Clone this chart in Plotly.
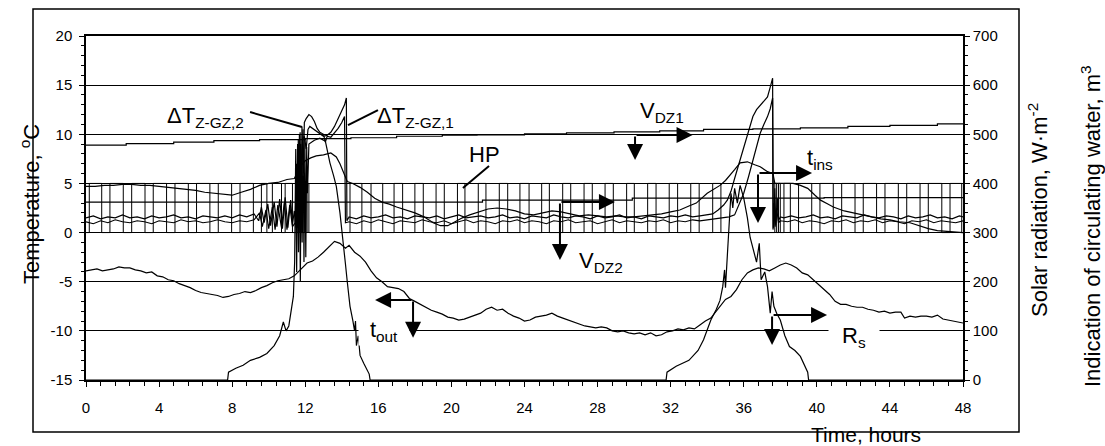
import plotly.graph_objects as go

FONT = "Arial, 'Liberation Sans', sans-serif"

# ---------------- data (time in hours) ----------------
# outdoor temperature t_out, degC
T_OUT = [(0.0,-3.9),(0.3,-3.8),(0.6,-3.7),(0.9,-3.9),(1.2,-3.8),(1.5,-3.7),(1.8,-3.5),(2.1,-3.6),(2.4,-3.6),
         (2.7,-3.8),(3.0,-3.9),(3.3,-4.1),(3.6,-4.0),(3.9,-4.4),(4.2,-4.5),(4.5,-4.8),(4.8,-4.9),(5.1,-5.2),
         (5.4,-5.4),(5.7,-5.6),(6.0,-5.9),(6.3,-6.1),(6.6,-6.2),(6.9,-6.3),(7.2,-6.4),(7.5,-6.6),(7.8,-6.5),
         (8.1,-6.3),(8.4,-6.2),(8.7,-6.0),(9.0,-6.1),(9.3,-5.9),(9.6,-5.6),(9.9,-5.4),(10.2,-5.1),(10.5,-4.9),
         (10.8,-4.8),(11.1,-4.7),(11.4,-4.4),(11.6,-4.0),(11.8,-3.6),(12.1,-3.1),(12.4,-2.9),(12.7,-2.5),
         (13.0,-2.0),(13.3,-1.4),(13.6,-0.9),(13.9,-1.1),(14.2,-1.6),(14.4,-1.3),(14.7,-2.0),(15.0,-2.4),
         (15.3,-3.0),(15.6,-3.9),(15.9,-4.6),(16.2,-5.0),(16.5,-5.5),(16.8,-5.6),(17.1,-5.7),(17.4,-6.0),
         (17.7,-6.7),(18.0,-7.0),(18.3,-7.3),(18.6,-7.6),(18.9,-7.9),(19.2,-8.1),(19.5,-8.3),(19.8,-8.6),
         (20.1,-8.7),(20.4,-8.9),(20.7,-8.8),(21.0,-8.6),(21.3,-8.4),(21.6,-8.2),(21.9,-7.8),(22.2,-7.6),
         (22.5,-7.9),(22.8,-7.8),(23.1,-8.2),(23.4,-8.5),(23.7,-8.7),(24.0,-9.0),(24.3,-8.9),(24.6,-8.6),
         (24.9,-8.5),(25.2,-8.4),(25.5,-8.2),(25.8,-8.5),(26.1,-8.7),(26.4,-8.9),(26.7,-9.1),(27.0,-9.3),
         (27.3,-9.5),(27.6,-9.6),(27.9,-9.7),(28.2,-9.6),(28.5,-9.7),(28.8,-10.0),(29.1,-10.1),(29.4,-10.0),
         (29.7,-10.2),(30.0,-10.3),(30.3,-10.2),(30.6,-10.4),(30.9,-10.2),(31.2,-10.5),(31.5,-10.4),
         (31.8,-10.1),(32.1,-10.0),(32.4,-9.8),(32.7,-9.9),(33.0,-9.7),(33.3,-9.8),(33.6,-9.4),(33.9,-9.0),
         (34.2,-8.7),(34.5,-8.0),(34.8,-7.3),(35.0,-6.8),(35.3,-6.5),(35.6,-5.8),(35.9,-4.8),(36.2,-4.1),
         (36.5,-3.8),(36.8,-3.6),(37.1,-3.7),(37.4,-3.9),(37.7,-3.6),(38.0,-3.3),(38.3,-3.1),(38.6,-3.3),
         (38.9,-3.6),(39.2,-4.1),(39.5,-4.3),(39.8,-4.8),(40.1,-5.4),(40.4,-5.8),(40.7,-6.3),(41.0,-7.0),
         (41.3,-7.3),(41.6,-7.3),(41.9,-7.5),(42.2,-7.6),(42.5,-7.6),(42.8,-7.8),(43.1,-7.9),(43.4,-8.1),
         (43.7,-8.0),(44.0,-8.2),(44.3,-8.1),(44.6,-8.1),(44.8,-8.7),(45.1,-8.5),(45.4,-8.6),(45.7,-8.5),
         (46.0,-8.5),(46.3,-8.6),(46.6,-8.4),(46.9,-8.8),(47.2,-8.9),(47.5,-9.0),(47.8,-9.1),(48.0,-9.2)]

# inside temperature t_ins, degC
T_INS = [(0.0,4.7),(0.5,4.7),(1.0,4.8),(1.5,4.8),(2.0,4.9),(2.5,4.9),(3.0,4.8),(3.5,4.8),(4.0,4.7),(4.5,4.6),
         (5.0,4.5),(5.5,4.4),(6.0,4.3),(6.5,4.1),(7.0,4.0),(7.5,3.9),(8.0,3.8),(8.5,4.1),(9.0,4.4),(9.5,4.8),
         (10.0,5.0),(10.5,5.1),(11.0,5.4),(11.4,5.5),(11.6,6.2),(11.8,6.9),(12.0,7.3),(12.3,7.6),(12.6,7.8),
         (13.0,7.9),(13.4,8.1),(13.7,7.7),(13.9,7.0),(14.1,6.0),(14.3,5.2),(14.6,5.0),(15.0,4.6),(15.4,4.1),
         (15.8,3.5),(16.2,3.1),(16.6,2.9),(17.0,2.6),(17.5,2.3),(18.0,2.0),(18.5,1.6),(19.0,1.0),(19.4,0.7),
         (19.8,0.7),(20.2,1.1),(20.6,1.5),(21.0,1.8),(21.5,2.1),(22.0,2.4),(22.5,2.5),(23.0,2.4),(23.5,2.2),
         (24.0,1.9),(24.5,1.8),(25.0,2.0),(25.5,2.2),(26.0,2.1),(26.5,1.9),(27.0,1.7),(27.5,1.8),(28.0,1.7),
         (28.5,1.6),(29.0,1.7),(29.5,1.6),(30.0,1.6),(30.5,1.7),(31.0,1.8),(31.5,1.9),(32.0,2.1),(32.5,2.3),
         (33.0,2.7),(33.4,3.0),(34.0,4.0),(34.4,4.5),(34.7,4.8),(35.0,5.3),(35.2,5.7),(35.5,6.4),(35.8,7.1),
         (36.2,7.2),(36.6,6.9),(36.9,6.7),(37.3,6.2),(37.6,6.0),(37.7,5.0),(38.2,5.0),(38.7,5.0),(39.1,4.8),
         (39.5,4.5),(39.9,3.8),(40.2,3.3),(40.6,2.9),(40.9,2.6),(41.5,2.2),(42.0,2.0),(42.5,1.8),(43.0,1.6),
         (43.5,1.4),(44.0,1.3),(44.5,1.1),(45.1,1.0),(45.6,0.7),(46.1,0.4),(46.6,0.2),(47.2,0.1),(48.0,0.0)]

# temperature difference dT_Z-GZ,1, degC
DT_1 = [(0.0,1.5),(0.4,1.7),(0.8,1.4),(1.2,1.6),(1.6,1.5),(2.0,1.8),(2.4,1.5),(2.8,1.6),(3.2,1.4),(3.6,1.7),
        (4.0,1.5),(4.4,1.6),(4.8,1.8),(5.2,1.5),(5.6,1.6),(6.0,1.4),(6.4,1.7),(6.8,1.6),(7.2,1.5),(7.6,1.7),
        (8.0,1.5),(8.4,1.8),(8.8,1.6),(9.2,1.9),(9.45,1.2),(9.6,2.6),(9.75,1.0),(9.95,2.9),(10.1,0.7),
        (10.3,3.1),(10.45,0.6),(10.6,3.4),(10.75,0.4),(10.9,3.6),(11.05,0.5),(11.2,3.3),(11.3,0.8),(11.4,2.2),
        (11.5,0.5),(11.55,6.0),(11.6,1.0),(11.65,8.0),(11.7,2.0),(11.75,9.0),(11.8,4.0),(11.85,9.5),
        (11.95,9.8),(12.05,8.5),(12.15,10.5),(12.25,10.8),(12.4,10.6),(12.6,10.3),(12.8,10.0),(13.0,9.8),
        (13.2,9.9),(13.4,10.2),(13.6,10.8),(13.8,11.6),(14.0,12.4),(14.15,13.0),(14.25,13.7),(14.28,1.2),
        (14.4,1.6),(14.8,1.4),(15.2,1.7),(15.6,1.5),(16.0,1.6),(16.4,1.8),(16.8,1.5),(17.2,1.6),(17.6,1.4),
        (18.0,1.7),(18.4,1.6),(18.8,1.5),(19.2,1.7),(19.6,1.4),(20.0,1.6),(20.4,1.8),(20.8,1.5),(21.2,1.6),
        (21.6,1.7),(22.0,1.5),(22.4,1.6),(22.8,1.8),(23.2,1.5),(23.6,1.6),(24.0,1.4),(24.4,1.7),(24.8,1.6),
        (25.2,1.5),(25.6,1.8),(26.0,1.6),(26.4,1.5),(26.8,1.7),(27.2,1.6),(27.6,1.4),(28.0,1.7),(28.4,1.5),
        (28.8,1.6),(29.2,1.8),(29.6,1.5),(30.0,1.6),(30.4,1.4),(30.8,1.7),(31.2,1.6),(31.6,1.5),(32.0,1.7),
        (32.4,1.6),(32.8,1.8),(33.2,1.6),(33.6,1.7),(34.0,1.8),(34.3,1.9),(34.6,2.3),(34.9,2.8),(35.1,3.3),
        (35.3,4.2),(35.5,5.5),(35.8,7.4),(36.05,9.2),(36.3,10.8),(36.5,11.8),(36.7,12.5),(36.9,12.9),
        (37.1,13.3),(37.3,13.8),(37.45,14.8),(37.58,15.7),(37.6,0.3),(37.65,1.0),(37.7,4.5),(37.75,0.8),
        (37.85,3.5),(37.9,1.2),(38.0,1.6),(38.2,1.5),(38.6,1.7),(39.0,1.5),(39.4,1.6),(39.8,1.8),(40.2,1.5),
        (40.6,1.6),(41.0,1.4),(41.4,1.7),(41.8,1.6),(42.2,1.5),(42.6,1.8),(43.0,1.6),(43.4,1.5),(43.8,1.7),
        (44.2,1.6),(44.6,1.4),(45.0,1.7),(45.4,1.5),(45.8,1.6),(46.2,1.8),(46.6,1.5),(47.0,1.6),(47.4,1.4),
        (47.8,1.7),(48.0,1.6)]

# temperature difference dT_Z-GZ,2, degC
DT_2 = [(0.0,1.1),(0.4,0.9),(0.8,1.2),(1.2,1.0),(1.6,1.3),(2.0,1.1),(2.4,1.0),(2.8,1.2),(3.2,1.1),(3.6,0.9),
        (4.0,1.2),(4.4,1.1),(4.8,1.0),(5.2,1.3),(5.6,1.1),(6.0,1.2),(6.4,1.0),(6.8,1.1),(7.2,1.3),(7.6,1.1),
        (8.0,1.0),(8.4,1.2),(8.8,1.1),(9.2,1.3),(9.5,2.0),(9.65,0.6),(9.85,2.3),(10.0,0.4),(10.2,2.6),
        (10.35,0.3),(10.5,2.8),(10.7,0.5),(10.85,3.0),(11.0,0.3),(11.15,2.8),(11.3,0.6),(11.45,1.0),
        (11.52,7.0),(11.57,0.5),(11.62,9.5),(11.67,1.0),(11.72,10.2),(11.77,3.0),(11.82,10.8),(11.9,6.0),
        (11.95,11.2),(12.05,11.6),(12.2,12.0),(12.35,11.8),(12.5,11.3),(12.65,10.6),(12.8,10.2),(13.0,10.0),
        (13.1,9.2),(13.2,9.8),(13.4,9.7),(13.6,10.1),(13.8,10.6),(14.0,11.2),(14.15,11.8),(14.2,1.0),
        (14.4,1.1),(14.8,0.9),(15.2,1.2),(15.6,1.0),(16.0,1.3),(16.4,1.1),(16.8,0.9),(17.2,1.2),(17.6,1.1),
        (18.0,1.0),(18.4,1.3),(18.8,1.1),(19.2,1.0),(19.6,1.2),(20.0,0.9),(20.4,1.1),(20.8,1.3),(21.2,1.0),
        (21.6,1.2),(22.0,1.1),(22.4,0.9),(22.8,1.2),(23.2,1.1),(23.6,1.3),(24.0,1.0),(24.4,1.2),(24.8,1.1),
        (25.2,0.9),(25.6,1.2),(26.0,1.1),(26.4,1.3),(26.8,1.0),(27.2,1.1),(27.6,1.2),(28.0,0.9),(28.4,1.1),
        (28.8,1.3),(29.2,1.0),(29.6,1.2),(30.0,1.1),(30.4,1.0),(30.8,1.2),(31.2,1.1),(31.6,1.3),(32.0,1.0),
        (32.4,1.2),(32.8,1.1),(33.2,1.3),(33.6,1.2),(34.0,1.3),(34.4,1.4),(34.8,1.5),(35.2,1.6),(35.5,1.8),
        (35.75,3.0),(36.0,4.0),(36.25,5.6),(36.5,7.4),(36.7,8.8),(36.9,10.1),(37.1,11.0),(37.3,11.8),
        (37.45,12.6),(37.58,13.7),(37.62,0.5),(37.68,3.0),(37.72,0.6),(37.8,2.5),(37.9,1.0),(38.0,1.2),
        (38.4,1.1),(38.8,1.3),(39.2,1.0),(39.6,1.2),(40.0,1.1),(40.4,0.9),(40.8,1.2),(41.2,1.1),(41.6,1.3),
        (42.0,1.0),(42.4,1.2),(42.8,1.1),(43.2,1.3),(43.6,1.0),(44.0,1.2),(44.4,1.1),(44.8,0.9),(45.2,1.2),
        (45.6,1.1),(46.0,1.3),(46.4,1.0),(46.8,1.2),(47.2,1.1),(47.6,1.0),(48.0,1.2)]

# solar radiation R_s, W/m2 (right axis)
R_S = [(0.0,0),(7.75,0),(7.8,16),(8.2,24),(8.6,30),(9.0,40),(9.5,46),(9.9,54),(10.3,70),(10.6,90),(10.8,118),
       (10.95,100),(11.1,110),(11.25,148),(11.35,170),(11.42,240),(11.48,470),(11.53,220),(11.58,480),
       (11.63,260),(11.68,500),(11.73,200),(11.78,460),(11.83,280),(11.88,510),(11.93,240),(11.98,490),
       (12.03,250),(12.08,474),(12.12,380),(12.2,480),(12.5,488),(12.8,492),(13.1,486),(13.35,442),
       (13.55,416),(13.7,394),(13.9,340),(14.05,280),(14.2,236),(14.3,200),(14.45,150),(14.6,122),
       (14.7,100),(14.75,120),(14.8,70),(14.9,90),(15.0,50),(15.2,34),(15.4,20),(15.5,12),(15.55,0),
       (31.75,0),(31.8,16),(32.3,28),(33.0,40),(33.5,60),(33.8,82),(34.2,122),(34.5,144),(34.7,162),
       (34.85,190),(34.95,224),(35.0,188),(35.1,260),(35.2,330),(35.3,380),(35.4,350),(35.5,390),
       (35.65,360),(35.8,396),(36.0,370),(36.2,330),(36.35,290),(36.55,260),(36.7,240),(36.85,278),
       (36.95,204),(37.15,220),(37.3,190),(37.45,136),(37.55,180),(37.65,150),(37.8,136),(38.0,122),
       (38.25,90),(38.5,68),(38.8,60),(39.1,48),(39.35,30),(39.5,16),(39.55,0),(48.0,0)]

# circulating-water meter indications (right axis units)
V_DZ1 = [(0.0,478),(2.2,481),(4.8,484),(7.0,487),(9.5,489),(12.0,491),(14.5,493),(17.0,496),(19.5,498),
         (21.4,499),(24.0,501),(26.3,503),(28.9,505),(31.4,507),(33.8,510),(36.5,511),(39.1,513),
         (41.7,516),(44.0,518),(46.6,521),(48.0,521)]
V_DZ2 = [(0.0,362),(21.7,366),(29.9,370),(40.4,371),(48.0,371)]

# heat pump on/off switching times (h); levels on the right axis
HP_EDGES = [0.18,0.86,1.31,2.04,2.5,3.23,3.68,4.41,4.87,5.6,6.05,6.78,7.24,7.97,8.43,9.16,9.6,9.9,10.2,
            10.7,10.9,11.3,11.5,11.55,11.65,11.7,11.8,11.85,11.95,12.0,12.1,12.2,14.45,15.1,15.6,16.24,
            16.86,17.33,18.0,18.46,19.16,19.61,20.33,20.74,21.47,21.89,22.62,23.08,23.75,24.25,24.94,25.36,
            26.09,26.53,27.26,27.71,28.41,28.86,29.59,30.01,30.74,31.2,31.92,32.38,33.1,33.56,34.3,34.75,
            37.7,37.8,37.9,38.0,38.2,38.55,39.0,39.72,40.17,40.9,41.36,42.09,42.54,43.27,43.73,44.46,
            44.92,45.65,46.1,46.84,47.29,47.93]
HP_LEVELS = [300, 400]

X_TICKS = list(range(0, 49, 4))
Y_TICKS = [-15, -10, -5, 0, 5, 10, 15, 20]
Y2_TICKS = [0, 100, 200, 300, 400, 500, 600, 700]


def split(points):
    return [p[0] for p in points], [p[1] for p in points]


fig = go.Figure()
LINE = dict(color="black", width=1.2)

for pts in [T_OUT, T_INS, DT_1, DT_2]:
    x, y = split(pts)
    fig.add_trace(go.Scatter(x=x, y=y, mode="lines", line=LINE, yaxis="y", showlegend=False))

x, y = split(R_S)
fig.add_trace(go.Scatter(x=x, y=y, mode="lines", line=LINE, yaxis="y2", showlegend=False))

for pts in [V_DZ1, V_DZ2]:
    x, y = split(pts)
    fig.add_trace(go.Scatter(x=x, y=y, mode="lines", line=dict(color="black", width=1.2, shape="hv"),
                             yaxis="y2", showlegend=False))

hp_x, hp_y = [0.0], [HP_LEVELS[0]]
state = 0
for t in HP_EDGES:
    state = 1 - state
    hp_x.append(t)
    hp_y.append(HP_LEVELS[state])
hp_x.append(48.0)
hp_y.append(hp_y[-1])
fig.add_trace(go.Scatter(x=hp_x, y=hp_y, mode="lines", line=dict(color="black", width=1.0, shape="hv"),
                         yaxis="y2", showlegend=False))

# ---------------- annotations ----------------
annotations = []

LBL = dict(family=FONT, size=22, color="black")
labels = [
    ("ΔT<sub>Z-GZ,2</sub>", 4.3, 11.8, None),
    ("ΔT<sub>Z-GZ,1</sub>", 15.8, 11.8, None),
    ("HP", 20.85, 7.9, None),
    ("V<sub>DZ1</sub>", 30.2, 12.3, None),
    ("V<sub>DZ2</sub>", 26.9, -3.0, None),
    ("t<sub>out</sub>", 14.89, -10.0, 50),
    ("t<sub>ins</sub>", 39.35, 7.5, None),
    ("R<sub>s</sub>", 40.61, -10.6, 50),
]
for text, x, y, w in labels:
    a = dict(x=x, y=y, xref="x", yref="y", text=text, showarrow=False, xanchor="left", yanchor="middle",
             font=LBL)
    if w:
        a.update(bgcolor="white", width=w, align="center", borderpad=0)
    annotations.append(a)

# L-shaped arrows: (corner_t, corner_v, head_t, head_v)
ARROWS = [(30.05, 9.93, 33.2, 9.93), (30.05, 9.93, 30.05, 7.39),
          (25.94, 3.11, 28.95, 3.11), (25.94, 3.11, 25.94, -2.8),
          (17.9, -6.86, 15.82, -6.86), (17.9, -6.86, 17.9, -10.7),
          (36.78, 6.06, 39.74, 6.06), (36.78, 6.06, 36.78, 0.98),
          (37.55, -8.38, 40.56, -8.38), (37.55, -8.38, 37.55, -11.43)]
for ct, cv, ht, hv in ARROWS:
    annotations.append(dict(x=ht, y=hv, ax=ct, ay=cv, xref="x", yref="y", axref="x", ayref="y",
                            text="", showarrow=True, arrowhead=2, arrowsize=1.6, arrowwidth=2,
                            arrowcolor="black", standoff=0, startstandoff=0))

TITLE = dict(family=FONT, size=22, color="black")
annotations += [
    dict(x=(30 - 86) / 877, y=(380 - 204) / 344, xref="paper", yref="paper", text="Temperature, <sup>o</sup>C",
         textangle=-90, showarrow=False, xanchor="center", yanchor="middle", font=TITLE),
    dict(x=(1038 - 86) / 877, y=(380 - 210) / 344, xref="paper", yref="paper",
         text="Solar radiation, W·m<sup>-2</sup>", textangle=-90, showarrow=False,
         xanchor="center", yanchor="middle", font=TITLE),
    dict(x=(1091 - 86) / 877, y=(380 - 226) / 344, xref="paper", yref="paper",
         text="Indication of circulating water, m<sup>3</sup>", textangle=-90, showarrow=False,
         xanchor="center", yanchor="middle", font=TITLE),
    dict(x=(866 - 86) / 877, y=(380 - 434) / 344, xref="paper", yref="paper", text="Time, hours",
         showarrow=False, xanchor="center", yanchor="middle", borderpad=0,
         font=dict(family=FONT, size=21, color="black")),
]

shapes = [
    dict(type="rect", xref="paper", yref="paper", x0=(33 - 86) / 877, x1=(1019 - 86) / 877,
         y0=(380 - 432) / 344, y1=(380 - 9) / 344, line=dict(color="black", width=1.5)),
    dict(type="line", xref="x", yref="y", x0=8.98, y0=12.26, x1=11.82, y1=10.74, line=dict(color="black", width=2)),
    dict(type="line", xref="x", yref="y", x0=15.98, y0=12.46, x1=14.34, y1=10.94, line=dict(color="black", width=2)),
    dict(type="line", xref="x", yref="y", x0=22.06, y0=6.78, x1=20.63, y1=4.54, line=dict(color="black", width=2)),
]

TICKF = dict(family=FONT, size=15, color="black")
fig.update_layout(
    width=1105, height=446, margin=dict(l=86, r=142, t=36, b=66),
    paper_bgcolor="white", plot_bgcolor="white", showlegend=False,
    annotations=annotations, shapes=shapes,
    xaxis=dict(range=[0, 48], tickmode="array", tickvals=X_TICKS, ticktext=[str(v) for v in X_TICKS],
               ticks="outside", ticklen=5, tickwidth=1.3, tickcolor="black", tickfont=TICKF,
               ticklabelstandoff=8,
               minor=dict(tickmode="linear", tick0=0, dtick=0.8, ticks="outside", ticklen=4, tickcolor="black",
                          showgrid=False),
               showline=True, linecolor="black", linewidth=1.5, mirror=True, showgrid=False, zeroline=False),
    yaxis=dict(range=[-15, 20], tickmode="array", tickvals=Y_TICKS, ticktext=[str(v) for v in Y_TICKS],
               ticks="outside", ticklen=5, tickwidth=1.3, tickcolor="black", tickfont=TICKF,
               ticklabelstandoff=4,
               minor=dict(tickmode="linear", tick0=0, dtick=1, ticks="outside", ticklen=3, tickcolor="black",
                          showgrid=False),
               showline=True, linecolor="black", linewidth=1.5, showgrid=True, gridcolor="black",
               gridwidth=1, zeroline=False),
    yaxis2=dict(range=[0, 700], overlaying="y", side="right", tickmode="array", tickvals=Y2_TICKS,
                ticktext=[str(v) for v in Y2_TICKS], ticks="outside", ticklen=5, tickwidth=1.3,
                tickcolor="black", tickfont=TICKF,
                minor=dict(tickmode="linear", tick0=0, dtick=20, ticks="outside", ticklen=3, tickcolor="black",
                           showgrid=False),
                showline=True, linecolor="black", linewidth=1.5, showgrid=False, zeroline=False),
)

fig.write_html("out.html", config={"displayModeBar": False},
               post_script="document.body.style.margin='0';document.body.style.overflow='hidden';")
